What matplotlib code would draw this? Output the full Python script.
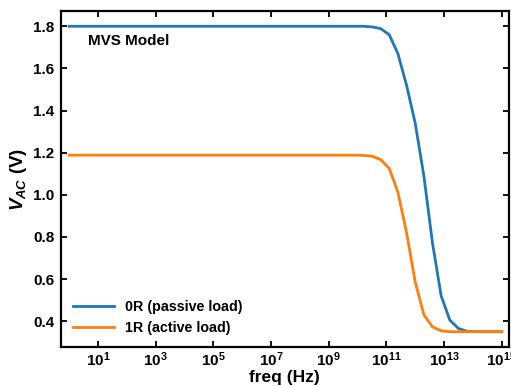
import numpy as np
import matplotlib
matplotlib.use("Agg")
import matplotlib.pyplot as plt
from matplotlib.ticker import NullLocator

plt.rcParams['font.family'] = ['Liberation Sans', 'DejaVu Sans']
plt.rcParams['font.weight'] = 'bold'
plt.rcParams['mathtext.fontset'] = 'custom'
plt.rcParams['mathtext.rm'] = 'Liberation Sans'
plt.rcParams['mathtext.it'] = 'Liberation Sans:italic'

# frequency sweep (log10 of Hz) and AC output voltage for both loads
freq_exp = [0, 9.9, 10.2, 10.5, 10.8, 11.1, 11.4, 11.7, 12.0, 12.3, 12.6,
            12.9, 13.2, 13.5, 13.8, 14.1, 15]
v_passive = [1.8, 1.8, 1.8, 1.797, 1.789, 1.76, 1.67, 1.52, 1.34, 1.09, 0.77,
             0.52, 0.405, 0.365, 0.352, 0.35, 0.35]
v_active = [1.188, 1.188, 1.187, 1.183, 1.167, 1.125, 1.012, 0.82, 0.586, 0.43,
            0.373, 0.354, 0.35, 0.35, 0.35, 0.35, 0.35]
labels = ['0R (passive load)', '1R (active load)']

xtick_exp = [1, 3, 5, 7, 9, 11, 13, 15]
yticks = [0.4, 0.6, 0.8, 1.0, 1.2, 1.4, 1.6, 1.8]

freq = 10.0 ** np.array(freq_exp)

fig = plt.figure(figsize=(5.11, 3.87), dpi=100)
ax = fig.add_axes([0.1188, 0.1034, 0.8772, 0.8682])

ax.plot(freq, v_passive, color='#1f77b4', lw=2, label=labels[0])
ax.plot(freq, v_active, color='#ff7f0e', lw=2, label=labels[1])

ax.set_xscale('log')
ax.set_xlim(10 ** -0.29, 10 ** 15.25)
ax.set_ylim(0.2775, 1.8725)
ax.set_xticks([10.0 ** e for e in xtick_exp])
ax.set_xticklabels([r'$\mathregular{10^{%d}}$' % e for e in xtick_exp])
ax.xaxis.set_minor_locator(NullLocator())
ax.set_yticks(yticks)
ax.set_yticklabels(['%.1f' % v for v in yticks])

ax.tick_params(direction='in', top=True, right=True, length=4, width=1.3,
               labelsize=11)
ax.tick_params(axis='x', pad=2.5)
ax.tick_params(axis='y', pad=4.5)
for s in ax.spines.values():
    s.set_linewidth(1.6)

ax.set_xlabel('freq (Hz)', fontsize=12.5, fontweight='bold', labelpad=1)
ax.set_ylabel(r'$V_{AC}$ (V)', fontsize=13.5, fontweight='bold', labelpad=3)

ax.text(0.06, 0.91, 'MVS Model', transform=ax.transAxes, fontsize=11,
        fontweight='bold', va='center')

ax.legend(loc='lower left', frameon=False, fontsize=10.3, handlelength=2.9,
          handletextpad=0.75, labelspacing=0.5, borderaxespad=0.45)

fig.savefig('out.png', dpi=100)
